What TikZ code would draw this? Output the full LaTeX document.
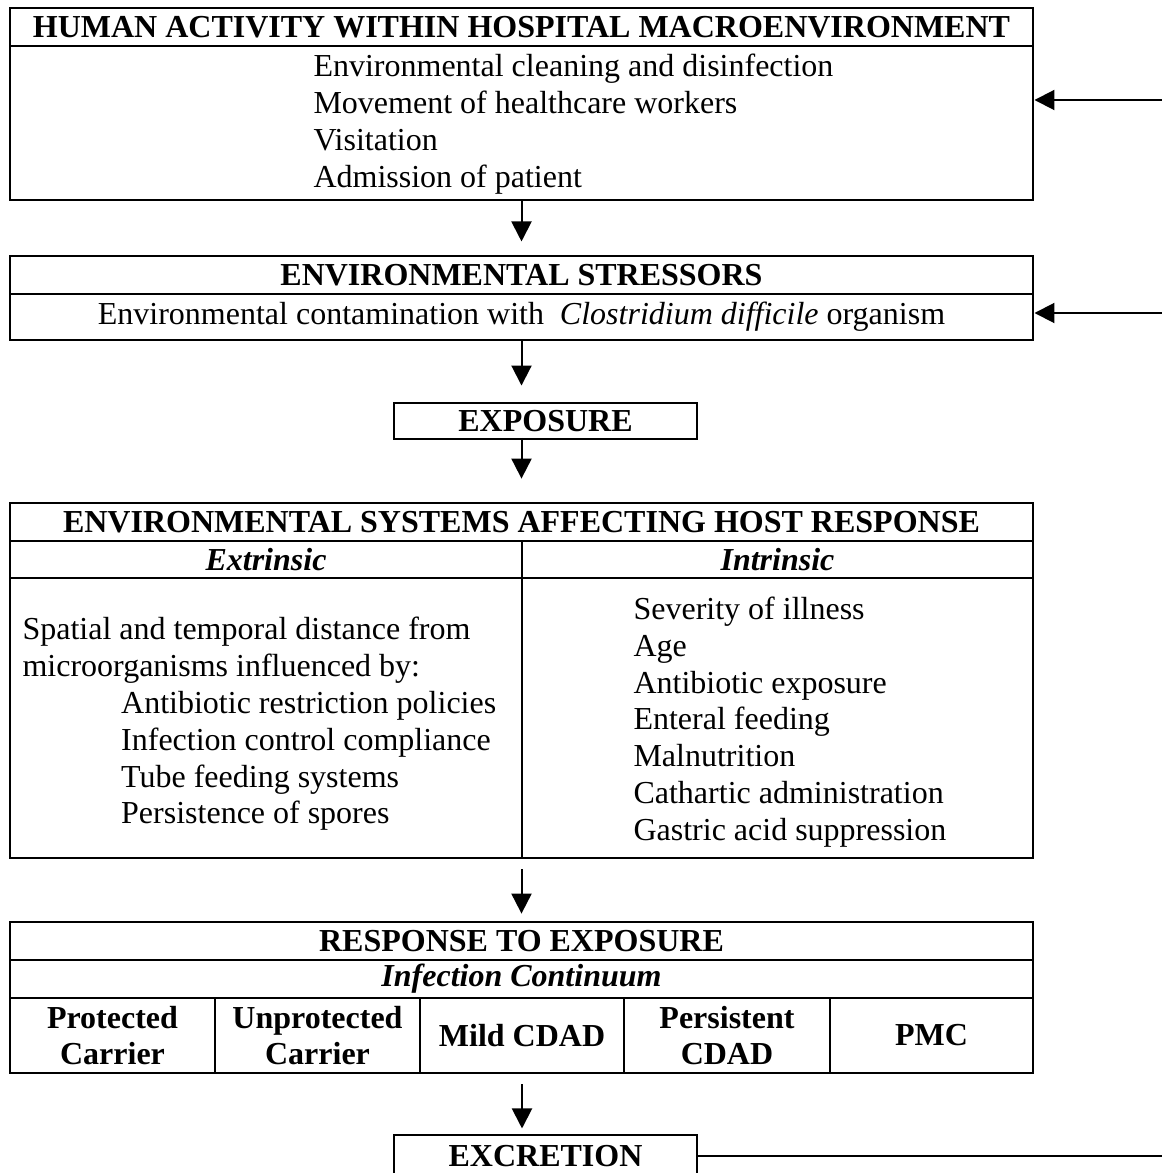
\documentclass[tikz,border=0pt]{standalone}
\usepackage{fontspec}
\setmainfont{Liberation Serif}
\usetikzlibrary{arrows.meta}
\newcommand{\px}{0.375pt}

\begin{document}
\begin{tikzpicture}[x=0.375pt, y=-0.375pt]
 \tikzstyle{cell}=[draw, line width=1.1pt, inner sep=0pt, align=center, font=\fontsize{12}{13.8}\selectfont]
 \tikzstyle{lines}=[align=left, inner sep=0pt, font=\fontsize{12}{13.8}\selectfont]
 \tikzstyle{flow}=[-{Triangle[length=7.5pt, width=7.5pt]}, line width=0.75pt]
 \clip (0,0) rectangle (1162,1173);
 %
 \node[cell, minimum width=1023*\px, minimum height=38*\px] (humanhead) at (521.5,27) {\textbf{HUMAN ACTIVITY WITHIN HOSPITAL MACROENVIRONMENT}};
 \node[cell, minimum width=1023*\px, minimum height=154*\px] (humanbody) at (521.5,123) {};
 \node[lines, anchor=west] (humanlist) at (313,124) {Environmental cleaning and disinfection\\Movement of healthcare workers\\Visitation\\Admission of patient};
 %
 \node[cell, minimum width=1023*\px, minimum height=38*\px] (stresshead) at (521.5,275) {\textbf{ENVIRONMENTAL STRESSORS}};
 \node[cell, minimum width=1023*\px, minimum height=46*\px] (stressbody) at (521.5,317) {Environmental contamination with \ \textit{Clostridium difficile} organism};
 %
 \node[cell, minimum width=303*\px, minimum height=36*\px] (exposure) at (545.5,421) {\textbf{EXPOSURE}};
 %
 \node[cell, minimum width=1023*\px, minimum height=38*\px] (syshead) at (521.5,522) {\textbf{ENVIRONMENTAL SYSTEMS AFFECTING HOST RESPONSE}};
 \node[cell, minimum width=512*\px, minimum height=37*\px] (extrhead) at (266,559.5) {\textbf{\textit{Extrinsic}}};
 \node[cell, minimum width=511*\px, minimum height=37*\px] (intrhead) at (777.5,559.5) {\textbf{\textit{Intrinsic}}};
 \node[cell, minimum width=512*\px, minimum height=280*\px] (extrbody) at (266,718) {};
 \node[cell, minimum width=511*\px, minimum height=280*\px] (intrbody) at (777.5,718) {};
 \node[lines, anchor=west] (extrlist) at (22,724) {Spatial and temporal distance from\\microorganisms influenced by:\\\hspace*{37pt}Antibiotic restriction policies\\\hspace*{37pt}Infection control compliance\\\hspace*{37pt}Tube feeding systems\\\hspace*{37pt}Persistence of spores};
 \node[lines, anchor=west] (intrlist) at (633,722) {Severity of illness\\Age\\Antibiotic exposure\\Enteral feeding\\Malnutrition\\Cathartic administration\\Gastric acid suppression};
 %
 \node[cell, minimum width=1023*\px, minimum height=38*\px] (resphead) at (521.5,941) {\textbf{RESPONSE TO EXPOSURE}};
 \node[cell, minimum width=1023*\px, minimum height=38*\px] (contin) at (521.5,979) {\textbf{\textit{Infection Continuum}}};
 \node[cell, minimum width=205*\px, minimum height=75*\px] (protected) at (112.5,1035.5) {\textbf{Protected}\\\textbf{Carrier}};
 \node[cell, minimum width=205*\px, minimum height=75*\px] (unprotected) at (317.5,1035.5) {\textbf{Unprotected}\\\textbf{Carrier}};
 \node[cell, minimum width=204*\px, minimum height=75*\px] (mild) at (522,1035.5) {\textbf{Mild CDAD}};
 \node[cell, minimum width=206*\px, minimum height=75*\px] (persistent) at (727,1035.5) {\textbf{Persistent}\\\textbf{CDAD}};
 \node[cell, minimum width=203*\px, minimum height=75*\px] (pmc) at (931.5,1035.5) {\textbf{PMC}};
 %
 \node[cell, minimum width=303*\px, minimum height=42*\px] (excretion) at (545.5,1156) {\textbf{EXCRETION}};
 %%
 \coordinate (feedA) at (1162,100);
 \coordinate (feedB) at (1162,313);
 \coordinate (feedC) at (1162,1156);
 \draw[flow] (feedA) -- (feedA -| humanbody.east);
 \draw[flow] (feedB) -- (feedB -| stressbody.east);
 \draw[line width=0.75pt] (excretion.east) -- (feedC);
 %
 \draw[flow, shorten >=4.9pt] (humanbody.south) -- (stresshead.north);
 \draw[flow, shorten >=6pt] (stressbody.south) -- (stressbody.south |- exposure.north);
 \draw[flow, shorten <=-1pt, shorten >=8.6pt] (syshead.north |- exposure.south) -- (syshead.north);
 \draw[flow, shorten <=3.75pt, shorten >=2.6pt] (resphead.north |- extrbody.south) -- (resphead.north);
 \draw[flow, shorten <=3.75pt, shorten >=1.9pt] (mild.south) -- (mild.south |- excretion.north);
\end{tikzpicture}
\end{document}
